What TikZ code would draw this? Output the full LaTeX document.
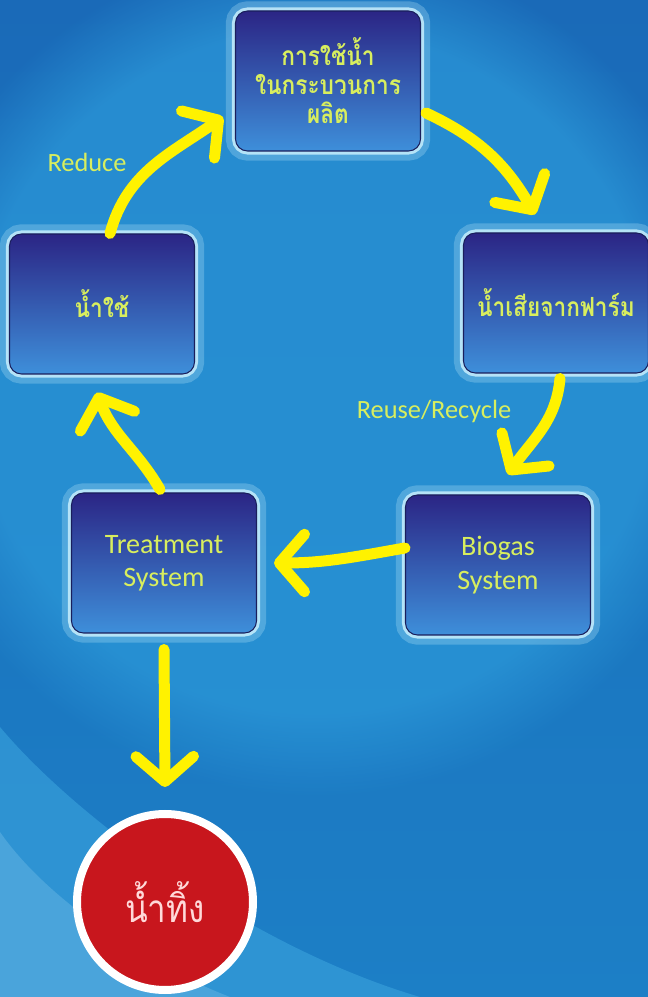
\documentclass[tikz,border=0pt]{standalone}
\usepackage{fontspec}
\setmainfont{Carlito}
\newfontfamily\thai[Script=Thai,FakeStretch=0.86]{Loma}
\usetikzlibrary{arrows.meta,fadings}
\definecolor{seatop}{HTML}{1A6AB8}
\definecolor{seabot}{HTML}{1C7FC6}
\definecolor{seaglow}{HTML}{2C9ADA}
\definecolor{sweep}{HTML}{3AA3DD}
\definecolor{boxtop}{HTML}{2B2585}
\definecolor{boxmid}{HTML}{2E50AE}
\definecolor{boxbot}{HTML}{3E8FDA}
\definecolor{boxline}{HTML}{1A1E5C}
\definecolor{halo}{HTML}{CFF3FF}
\definecolor{lemon}{HTML}{D8EE5E}
\definecolor{flowyellow}{HTML}{FFF200}
\definecolor{dropred}{HTML}{C8161D}

\begin{document}
\begin{tikzpicture}[
    box/.style={rounded corners=0.24cm, minimum width=3.7cm, minimum height=2.8cm,
        top color=boxtop, middle color=boxmid, bottom color=boxbot,
        draw=boxline, line width=0.6pt,
        preaction={draw=halo, line width=11pt, opacity=.25},
        preaction={draw=halo, line width=4pt, opacity=.8},
        text=lemon, align=center, font=\fontsize{16}{19}\selectfont},
    thaibox/.style={box, font=\thai\bfseries\fontsize{15}{16.5}\selectfont},
    flow/.style={draw=flowyellow, line width=0.22cm, line cap=round,
        -{Straight Barb[length=0.5cm,width=1.15cm,round]}},
    lbl/.style={text=lemon, font=\fontsize{15}{18}\selectfont}
]
\useasboundingbox (0,0) rectangle (12.96,19.94);

\shade[top color=seatop, bottom color=seabot] (0,0) rectangle (12.96,19.94);
\fill[seaglow, opacity=.7, path fading=circle with fuzzy edge 20 percent]
    (6.3,12.5) circle (8.5);
\fill[sweep, opacity=.6] (0,0) -- (0,5.4) .. controls (1.5,3.6) and (5,1) .. (8.4,0) -- cycle;
\fill[sweep!70!white, opacity=.4] (0,0) -- (0,3.3) .. controls (0.9,2) and (2.8,0.7) .. (4.6,0) -- cycle;

\node[thaibox] (prod) at (6.56,18.32) {การใช้น้ำ\\ในกระบวนการ\\ผลิต};
\node[thaibox] (farm) at (11.12,13.88) {น้ำเสียจากฟาร์ม};
\node[thaibox] (use) at (2.04,13.86) {น้ำใช้};
\node[box] (treat) at (3.28,8.68) {Treatment\\System};
\node[box] (biogas) at (9.96,8.64) {Biogas\\System};
\node[circle, minimum size=3.52cm, draw=white, line width=0.16cm, fill=dropred,
    text={white!85!red}, font=\thai\fontsize{22}{24}\selectfont] (waste) at (3.3,1.9) {น้ำทิ้ง};

\node[lbl] (reduce) at (1.74,16.7) {Reduce};
\node[lbl] (reuse) at (8.68,11.72) {Reuse/Recycle};

\draw[flow] ([xshift=0.16cm]use.north) to[out=75,in=215] ([xshift=-0.24cm,yshift=-0.72cm]prod.west);
\draw[flow] ([xshift=0.1cm,yshift=-0.64cm]prod.east) to[out=-25,in=120] ([xshift=-0.42cm,yshift=0.36cm]farm.north);
\draw[flow] ([xshift=0.08cm,yshift=-0.1cm]farm.south) to[out=-95,in=55] ([xshift=0.2cm,yshift=0.4cm]biogas.north);
\draw[flow] ([yshift=0.34cm]biogas.west) to[out=190,in=0] ([xshift=0.34cm]treat.east);
\draw[flow] ([xshift=-0.08cm,yshift=0.06cm]treat.north) to[out=120,in=-70] ([xshift=-0.1cm,yshift=-0.36cm]use.south);
\draw[flow] ([yshift=-0.32cm]treat.south) -- ([yshift=0.46cm]waste.north);
\end{tikzpicture}
\end{document}
